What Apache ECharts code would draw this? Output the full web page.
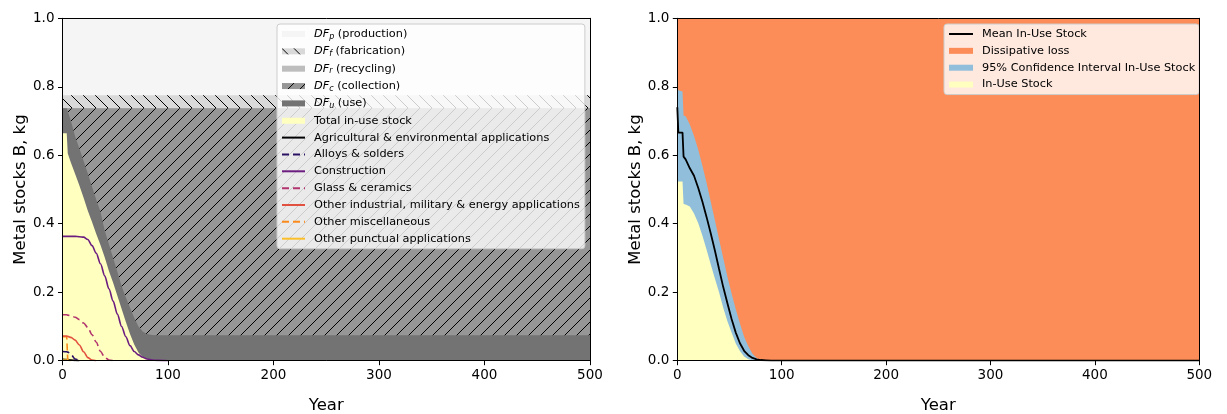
<!DOCTYPE html>
<html><head><meta charset="utf-8">
<script src="https://cdn.jsdelivr.net/npm/echarts@6/dist/echarts.min.js"></script>
<style>html,body{margin:0;padding:0;background:#fff}#c{width:1227px;height:414px}</style>
</head><body><div id="c"></div>
<script>
// ---------- Panel A data ----------
const yearsA = [0, 4, 5, 8, 12, 16, 20, 24, 28, 32, 36, 40, 44, 48, 52, 56, 60, 64, 68, 72, 76, 80, 85, 90, 100, 500];
const totalInUse = [0.664, 0.664, 0.605, 0.578, 0.545, 0.512, 0.476, 0.438, 0.405, 0.37, 0.338, 0.302, 0.262, 0.228, 0.19, 0.152, 0.114, 0.078, 0.047, 0.024, 0.011, 0.005, 0.002, 0.001, 0, 0];
const dfUseTop = [0.737, 0.737, 0.735, 0.70, 0.655, 0.62, 0.583, 0.547, 0.508, 0.47, 0.435, 0.38, 0.34, 0.30, 0.26, 0.218, 0.185, 0.155, 0.125, 0.10, 0.085, 0.078, 0.075, 0.074, 0.074, 0.074];
const constYearsA = [0, 500];
const dfCollectionTop = [0.737, 0.737];
const dfRecyclingTop = [0.737, 0.737];
const dfFabricationTop = [0.775, 0.775];
const dfProductionTop = [1.0, 1.0];

const agricultural = [0.004, 0.003, 0.003, 0.002, 0.001, 0, 0, 0, 0, 0, 0, 0, 0, 0, 0, 0, 0, 0, 0, 0, 0, 0, 0, 0, 0, 0];
const alloys = [0.027, 0.026, 0.025, 0.018, 0.005, 0, 0, 0, 0, 0, 0, 0, 0, 0, 0, 0, 0, 0, 0, 0, 0, 0, 0, 0, 0, 0];
const construction = [0.363, 0.363, 0.363, 0.363, 0.363, 0.362, 0.361, 0.354, 0.336, 0.314, 0.283, 0.248, 0.21, 0.174, 0.136, 0.10, 0.07, 0.044, 0.027, 0.017, 0.01, 0.005, 0.002, 0.001, 0, 0];
const glass = [0.134, 0.134, 0.133, 0.131, 0.127, 0.12, 0.11, 0.097, 0.076, 0.054, 0.027, 0.01, 0.002, 0, 0, 0, 0, 0, 0, 0, 0, 0, 0, 0, 0, 0];
const otherIndustrial = [0.072, 0.072, 0.071, 0.068, 0.06, 0.046, 0.026, 0.009, 0.002, 0, 0, 0, 0, 0, 0, 0, 0, 0, 0, 0, 0, 0, 0, 0, 0, 0];
const otherMisc = [0.07, 0.07, 0, 0, 0, 0, 0, 0, 0, 0, 0, 0, 0, 0, 0, 0, 0, 0, 0, 0, 0, 0, 0, 0, 0, 0];
const punctual = [0.002, 0.002, 0.001, 0, 0, 0, 0, 0, 0, 0, 0, 0, 0, 0, 0, 0, 0, 0, 0, 0, 0, 0, 0, 0, 0, 0];

// ---------- Panel B data ----------
const yearsB = [0, 1, 5, 6, 8, 12, 16, 20, 24, 28, 32, 36, 40, 44, 48, 52, 56, 60, 64, 68, 72, 76, 80, 85, 90, 100, 500];
const upperCI = [0.80, 0.79, 0.786, 0.716, 0.714, 0.69, 0.656, 0.617, 0.57, 0.52, 0.465, 0.41, 0.355, 0.30, 0.245, 0.196, 0.15, 0.109, 0.07, 0.042, 0.02, 0.008, 0.002, 0, 0, 0, 0];
const meanStock = [0.74, 0.666, 0.666, 0.596, 0.588, 0.562, 0.54, 0.505, 0.465, 0.42, 0.372, 0.322, 0.268, 0.215, 0.168, 0.122, 0.082, 0.051, 0.029, 0.016, 0.008, 0.004, 0.002, 0.001, 0, 0, 0];
const lowerCI = [0.523, 0.523, 0.523, 0.458, 0.456, 0.45, 0.43, 0.402, 0.366, 0.325, 0.282, 0.24, 0.2, 0.155, 0.115, 0.082, 0.05, 0.028, 0.012, 0.004, 0.001, 0, 0, 0, 0, 0, 0];
const constYearsB = [0, 500];
const dissipativeTop = [1.0, 1.0];

const xTicks = [0, 100, 200, 300, 400, 500];
const yTicks = [0.0, 0.2, 0.4, 0.6, 0.8, 1.0];

// ---------- styles ----------
const FONT = 'DejaVu Sans';
function hatch(bg, dir) {
  const s = 12;
  const c = document.createElement('canvas'); c.width = s; c.height = s;
  const g = c.getContext('2d');
  g.fillStyle = bg; g.fillRect(0, 0, s, s);
  g.strokeStyle = '#000'; g.lineWidth = 1; g.beginPath();
  if (dir === '/') {
    g.moveTo(0, s); g.lineTo(s, 0);
    g.moveTo(-2, 2); g.lineTo(2, -2);
    g.moveTo(s - 2, s + 2); g.lineTo(s + 2, s - 2);
  } else {
    g.moveTo(0, 0); g.lineTo(s, s);
    g.moveTo(-2, s - 2); g.lineTo(2, s + 2);
    g.moveTo(s - 2, -2); g.lineTo(s + 2, 2);
  }
  g.stroke();
  return { image: c, repeat: 'repeat' };
}
const patC = hatch('#969696', '/');
const patF = hatch('#d9d9d9', '\\');

const pairs = (xs, ys) => xs.map((x, i) => [x, ys[i]]);
// keep a line's points up to the first zero of its trailing run of zeros
function trimTail(pts) {
  let last = pts.length - 1;
  while (last > 0 && pts[last][1] === 0 && pts[last - 1][1] === 0) last--;
  return pts.slice(0, last + 1);
}
function area(name, xs, ys, color, ax, legendColor) {
  return { type: 'line', name, xAxisIndex: ax, yAxisIndex: ax, data: pairs(xs, ys),
    symbol: 'circle', showSymbol: false, silent: true, lineStyle: { width: 0 },
    itemStyle: { color: legendColor || color }, areaStyle: { color, opacity: 1 } };
}
function line(name, xs, ys, color, dashed, ax, width, z, smooth, keepTail) {
  const pts = pairs(xs, ys);
  return { type: 'line', name, xAxisIndex: ax, yAxisIndex: ax, data: keepTail ? pts : trimTail(pts),
    symbol: 'circle', showSymbol: false, silent: true, z: z || 3, itemStyle: { color },
    smooth: smooth || false, smoothMonotone: 'x',
    lineStyle: { color, width: width || 1.6, type: dashed ? [7, 4] : 'solid' } };
}
const noMarker = { color: 'rgba(0,0,0,0)', borderColor: 'rgba(0,0,0,0)', borderWidth: 0 };
const lineLegend = name => ({ name, itemStyle: noMarker });

function axesX(grid) {
  return [
    { gridIndex: grid, type: 'value', min: xTicks[0], max: xTicks[xTicks.length - 1], interval: 100, z: 10,
      axisLine: { show: true, onZero: false, lineStyle: { color: '#000', width: 1 } },
      axisTick: { show: true, length: 4.5, lineStyle: { color: '#000' } },
      axisLabel: { fontSize: 13.5, color: '#000', margin: 8, fontFamily: FONT },
      splitLine: { show: false },
      name: 'Year', nameLocation: 'middle', nameGap: 37,
      nameTextStyle: { fontSize: 16.5, color: '#000', fontFamily: FONT } },
    { gridIndex: grid, type: 'value', position: 'top', min: 0, max: 500, z: 10,
      axisLine: { show: true, onZero: false, lineStyle: { color: '#000', width: 1 } },
      axisTick: { show: false }, axisLabel: { show: false }, splitLine: { show: false } }
  ];
}
function axesY(grid) {
  return [
    { gridIndex: grid, type: 'value', min: yTicks[0], max: yTicks[yTicks.length - 1], interval: 0.2, z: 10,
      axisLine: { show: true, onZero: false, lineStyle: { color: '#000', width: 1 } },
      axisTick: { show: true, length: 4.5, lineStyle: { color: '#000' } },
      axisLabel: { fontSize: 13.5, color: '#000', margin: 8, fontFamily: FONT, formatter: v => v.toFixed(1) },
      splitLine: { show: false },
      name: 'Metal stocks B, kg', nameLocation: 'middle', nameGap: 33,
      nameTextStyle: { fontSize: 16.5, color: '#000', fontFamily: FONT } },
    { gridIndex: grid, type: 'value', position: 'right', min: 0, max: 1, z: 10,
      axisLine: { show: true, onZero: false, lineStyle: { color: '#000', width: 1 } },
      axisTick: { show: false }, axisLabel: { show: false }, splitLine: { show: false } }
  ];
}

const legendCommon = {
  orient: 'vertical', selectedMode: false, itemGap: 4.85, padding: [4, 5, 4, 4],
  backgroundColor: 'rgba(255,255,255,0.8)', borderColor: '#cccccc', borderWidth: 1, borderRadius: 3,
  textStyle: { fontSize: 11.3, color: '#000', fontFamily: FONT, lineHeight: 12, padding: [0, 0, 0, 4],
    rich: { i: { fontSize: 11.3, fontStyle: 'italic', fontFamily: FONT, color: '#000' },
            s: { fontSize: 8, fontStyle: 'italic', fontFamily: FONT, color: '#000', padding: [5, 0, 0, 0] } } },
  formatter: name => { const m = name.match(/^DF_(\w) (.*)$/); return m ? '{i|DF}{s|' + m[1] + '} ' + m[2] : name; }
};

const option = {
  animation: false,
  textStyle: { fontFamily: FONT },
  grid: [
    { left: 62.5, right: 637, top: 18.3, bottom: 53.3, outerBoundsMode: 'none', containLabel: false },
    { left: 677.3, right: 27.7, top: 18.3, bottom: 53.3, outerBoundsMode: 'none', containLabel: false }
  ],
  xAxis: [...axesX(0), ...axesX(1)],
  yAxis: [...axesY(0), ...axesY(1)],
  legend: [
    Object.assign({}, legendCommon, { left: 277, top: 24, itemWidth: 23, itemHeight: 6,
      data: [
        { name: 'DF_p (production)', icon: 'rect', itemStyle: { color: '#f5f5f5' } },
        { name: 'DF_f (fabrication)', icon: 'rect', itemStyle: { color: patF } },
        { name: 'DF_r (recycling)', icon: 'rect', itemStyle: { color: '#bdbdbd' } },
        { name: 'DF_c (collection)', icon: 'rect', itemStyle: { color: patC } },
        { name: 'DF_u (use)', icon: 'rect', itemStyle: { color: '#737373' } },
        { name: 'Total in-use stock', icon: 'rect', itemStyle: { color: '#ffffbf' } },
        lineLegend('Agricultural & environmental applications'), lineLegend('Alloys & solders'),
        lineLegend('Construction'), lineLegend('Glass & ceramics'),
        lineLegend('Other industrial, military & energy applications'),
        lineLegend('Other miscellaneous'), lineLegend('Other punctual applications')
      ] }),
    Object.assign({}, legendCommon, { left: 944, top: 24, itemWidth: 24, itemHeight: 6, padding: [4, 4, 4, 4],
      data: [
        lineLegend('Mean In-Use Stock'),
        { name: 'Dissipative loss', icon: 'rect', itemStyle: { color: '#fc8d59' } },
        { name: '95% Confidence Interval In-Use Stock', icon: 'rect', itemStyle: { color: '#91bfdb' } },
        { name: 'In-Use Stock', icon: 'rect', itemStyle: { color: '#ffffbf' } }
      ] })
  ],
  graphic: [
    { type: 'text', left: 78, top: 27, style: { text: 'A', fontSize: 28, fill: '#000', fontFamily: FONT } },
    { type: 'text', left: 694, top: 27, style: { text: 'B', fontSize: 28, fill: '#000', fontFamily: FONT } }
  ],
  series: [
    area('DF_p (production)', constYearsA, dfProductionTop, '#f5f5f5', 0),
    area('DF_f (fabrication)', constYearsA, dfFabricationTop, patF, 0, '#d9d9d9'),
    area('DF_r (recycling)', constYearsA, dfRecyclingTop, '#bdbdbd', 0),
    area('DF_c (collection)', constYearsA, dfCollectionTop, patC, 0, '#969696'),
    area('DF_u (use)', yearsA, dfUseTop, '#737373', 0),
    area('Total in-use stock', yearsA, totalInUse, '#ffffbf', 0),
    line('Agricultural & environmental applications', yearsA, agricultural, '#000004', false, 0, 1.6, 3, 0.3),
    line('Alloys & solders', yearsA, alloys, '#2b1163', true, 0, 1.6, 3, 0.3),
    line('Construction', yearsA, construction, '#6c1d80', false, 0, 1.6, 3, 0.3),
    line('Glass & ceramics', yearsA, glass, '#b2346f', true, 0, 1.6, 3, 0.3),
    line('Other industrial, military & energy applications', yearsA, otherIndustrial, '#e2513f', false, 0, 1.6, 4, 0.3),
    line('Other miscellaneous', yearsA, otherMisc, '#fa8a1c', true, 0),
    line('Other punctual applications', yearsA, punctual, '#fbbf2c', false, 0),

    area('Dissipative loss', constYearsB, dissipativeTop, '#fc8d59', 2),
    area('95% Confidence Interval In-Use Stock', yearsB, upperCI, '#91bfdb', 2),
    area('In-Use Stock', yearsB, lowerCI, '#ffffbf', 2),
    line('Mean In-Use Stock', yearsB, meanStock, '#000000', false, 2, 1.8, 5, false, true)
  ]
};
const chart = echarts.init(document.getElementById('c'), null, { renderer: 'canvas' });
chart.setOption(option);
</script></body></html>
